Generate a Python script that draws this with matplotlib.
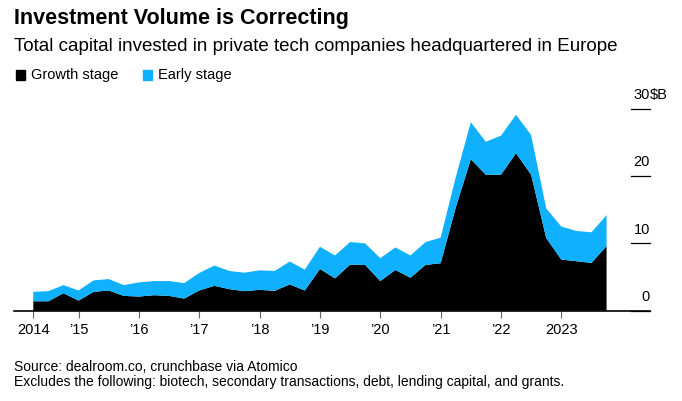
import numpy as np
import matplotlib.pyplot as plt

plt.rcParams['font.family'] = ['Liberation Sans', 'DejaVu Sans']

# quarterly values, $B, Q1 2014 .. Q3 2023
growth = [1.4, 1.4, 2.6, 1.5, 2.8, 3.0, 2.2, 2.1, 2.3, 2.2,
          1.8, 3.0, 3.7, 3.2, 2.9, 3.1, 2.95, 3.9, 3.0, 6.2,
          4.8, 6.85, 6.8, 4.4, 6.05, 4.9, 6.8, 7.05, 15.3, 22.5,
          20.2, 20.2, 23.4, 20.2, 10.8, 7.6, 7.35, 7.1, 9.6]
total = [2.8, 2.9, 3.8, 3.0, 4.5, 4.7, 3.8, 4.2, 4.4, 4.4,
         4.1, 5.6, 6.7, 5.9, 5.65, 6.0, 5.9, 7.3, 6.1, 9.5,
         8.2, 10.2, 10.0, 7.8, 9.4, 8.2, 10.2, 10.85, 19.8, 28.0,
         25.1, 26.0, 29.1, 26.1, 15.2, 12.5, 11.85, 11.65, 14.2]
early = [t - g for t, g in zip(total, growth)]
x = 2014.25 + 0.25 * np.arange(len(growth))  # quarter-end dates as years

year_ticks = list(range(2014, 2024))
year_labels = ["2014", "’15", "’16", "’17", "’18", "’19", "’20", "’21", "’22", "2023"]
y_ticks = [0, 10, 20, 30]
y_labels = ["0", "10", "20", "30"]

BLUE = "#0fb0fd"

fig = plt.figure(figsize=(6.82, 4.01), dpi=100)
ax = fig.add_axes([0.0205, 0.2252, 0.9326, 0.5203])
ax.stackplot(x, growth, early, colors=["black", BLUE], linewidth=0)
ax.set_xlim(2013.93, 2024.47)
ax.set_ylim(0, 31)

for s in ["top", "right", "left"]:
    ax.spines[s].set_visible(False)
ax.spines["bottom"].set_linewidth(1.2)
ax.set_yticks([])
# first tick sits on the first data point (Q1 2014)
ax.set_xticks([2014.25] + year_ticks[1:])
ax.set_xticklabels(year_labels, fontsize=10.5)
ax.tick_params(axis="x", length=5, width=0.8, color="#666666", pad=4)

# short right-hand gridlines with labels above
for v, lab in zip(y_ticks, y_labels):
    ax.plot([2024.15, 2024.47], [v, v], color="black", lw=0.9, clip_on=False)
    ax.text(2024.47, v + 1.0, lab, ha="right", va="bottom", fontsize=10.5)
ax.text(2024.47, 31.0, "$B", ha="left", va="bottom", fontsize=10.5)

fig.text(0.0205, 0.955, "Investment Volume is Correcting", fontsize=15.5,
         fontweight="bold", va="center")
fig.text(0.0205, 0.883, "Total capital invested in private tech companies headquartered in Europe",
         fontsize=13.5, va="center")
fig.patches.append(plt.Rectangle((0.0235, 0.8), 0.0135, 0.025, color="black",
                                 transform=fig.transFigure))
fig.text(0.045, 0.8125, "Growth stage", fontsize=10.5, va="center")
fig.patches.append(plt.Rectangle((0.21, 0.8), 0.0135, 0.025, color=BLUE,
                                 transform=fig.transFigure))
fig.text(0.231, 0.8125, "Early stage", fontsize=10.5, va="center")

fig.text(0.0205, 0.085, "Source: dealroom.co, crunchbase via Atomico", fontsize=10, va="center")
fig.text(0.0205, 0.047, "Excludes the following: biotech, secondary transactions, debt, lending capital, and grants.",
         fontsize=10, va="center")

fig.savefig("out.png", dpi=100)
